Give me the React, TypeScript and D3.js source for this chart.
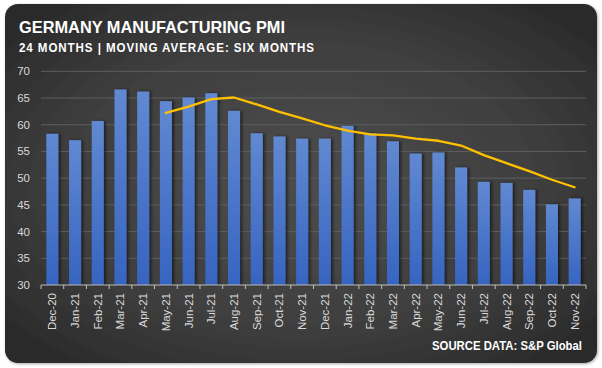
import React from "react";
import * as d3 from "d3";

const months = ["Dec-20","Jan-21","Feb-21","Mar-21","Apr-21","May-21","Jun-21","Jul-21","Aug-21","Sep-21","Oct-21","Nov-21","Dec-21","Jan-22","Feb-22","Mar-22","Apr-22","May-22","Jun-22","Jul-22","Aug-22","Sep-22","Oct-22","Nov-22"];
const pmi = [58.3,57.1,60.7,66.6,66.2,64.4,65.1,65.9,62.6,58.4,57.8,57.4,57.4,59.8,58.4,56.9,54.6,54.8,52.0,49.3,49.1,47.8,45.1,46.2];
const movingAvg: (number | null)[] = [null,null,null,null,null,62.2,63.4,64.8,65.1,63.8,62.4,61.2,59.9,58.9,58.2,58.0,57.4,57.0,56.1,54.3,52.8,51.3,49.7,48.3];
const yTicks = [30,35,40,45,50,55,60,65,70];

const W = 602, H = 368;
const plot = { left: 41, right: 586, top: 71.3, bottom: 285 };

export default function App() {
  const x = d3.scaleBand<string>().domain(months).range([plot.left, plot.right]).paddingInner(0.47).paddingOuter(0.235);
  const xb = d3.scaleBand<string>().domain(months).range([plot.left, plot.right]);
  const y = d3.scaleLinear().domain([30, 70]).range([plot.bottom, plot.top]);
  const line = d3.line<[string, number | null]>()
    .defined(d => d[1] != null)
    .x(d => (x(d[0]) as number) + x.bandwidth() / 2)
    .y(d => y(d[1] as number))
    .curve(d3.curveLinear);
  const pts = months.map((m, i) => [m, movingAvg[i]] as [string, number | null]);

  return (
    <svg width={W} height={H} style={{ position: "absolute", left: 0, top: 0, display: "block" }}>
      <defs>
        <radialGradient id="bg" cx="0.5" cy="0.5" r="0.65">
          <stop offset="0" stopColor="#4d4d4d" />
          <stop offset="0.6" stopColor="#3f3f3f" />
          <stop offset="1" stopColor="#2a2a2a" />
        </radialGradient>
        <linearGradient id="bar" x1="0" y1="0" x2="0" y2="1">
          <stop offset="0" stopColor="#6189d2" />
          <stop offset="1" stopColor="#3664c0" />
        </linearGradient>
        <filter id="cardShadow" x="-5%" y="-5%" width="110%" height="110%">
          <feDropShadow dx="1" dy="1" stdDeviation="1.5" floodColor="#000" floodOpacity="0.35" />
        </filter>
        <filter id="barShadow" x="-50%" y="-10%" width="200%" height="120%">
          <feDropShadow dx="2" dy="0" stdDeviation="1.8" floodColor="#000" floodOpacity="0.55" />
        </filter>
      </defs>
      <rect x={0} y={0} width={W} height={H} fill="#ffffff" />
      <rect x={5} y={4} width={592} height={359} rx={13} ry={13} fill="url(#bg)" filter="url(#cardShadow)" />

      <text x={19} y={33.3} fill="#ffffff" fontFamily="Liberation Sans, Arial, sans-serif" fontWeight="bold" fontSize={16.5} textLength={266} lengthAdjust="spacingAndGlyphs">GERMANY MANUFACTURING PMI</text>
      <text x={19} y={51.7} fill="#ffffff" fontFamily="Liberation Sans, Arial, sans-serif" fontWeight="bold" fontSize={12.5} textLength={296} lengthAdjust="spacingAndGlyphs" letterSpacing={1}>24 MONTHS | MOVING AVERAGE: SIX MONTHS</text>

      {yTicks.filter(t => t > 30).map(t => (
        <line key={t} x1={plot.left} x2={plot.right} y1={y(t)} y2={y(t)} stroke="#5e5e5e" strokeWidth={1} />
      ))}
      {yTicks.map(t => (
        <text key={t} x={30} y={y(t) + 4} textAnchor="end" fill="#d9d9d9" fontFamily="Liberation Sans, Arial, sans-serif" fontSize={11.5}>{t}</text>
      ))}

      {months.map((m, i) => (
        <rect key={m} x={x(m)} y={y(pmi[i])} width={x.bandwidth()} height={plot.bottom - y(pmi[i])} fill="url(#bar)" filter="url(#barShadow)" />
      ))}

      <line x1={plot.left} x2={plot.right} y1={plot.bottom} y2={plot.bottom} stroke="#bfbfbf" strokeWidth={1} />
      {months.map(m => (
        <line key={m} x1={xb(m)} x2={xb(m)} y1={plot.bottom} y2={plot.bottom + 4} stroke="#bfbfbf" strokeWidth={1} />
      ))}
      <line x1={plot.right} x2={plot.right} y1={plot.bottom} y2={plot.bottom + 4} stroke="#bfbfbf" strokeWidth={1} />

      <path d={line(pts) || ""} fill="none" stroke="#ffc000" strokeWidth={2.3} strokeLinejoin="round" strokeLinecap="round" />

      {months.map(m => {
        const cx = (x(m) as number) + x.bandwidth() / 2;
        return (
          <text key={m} transform={`translate(${cx + 4},${plot.bottom + 8}) rotate(-90)`} textAnchor="end" fill="#d9d9d9" fontFamily="Liberation Sans, Arial, sans-serif" fontSize={11.5}>{m}</text>
        );
      })}

      <text x={432} y={349.5} fill="#ffffff" fontFamily="Liberation Sans, Arial, sans-serif" fontWeight="bold" fontSize={12.5} textLength={150} lengthAdjust="spacingAndGlyphs">SOURCE DATA: S&amp;P Global</text>
    </svg>
  );
}
